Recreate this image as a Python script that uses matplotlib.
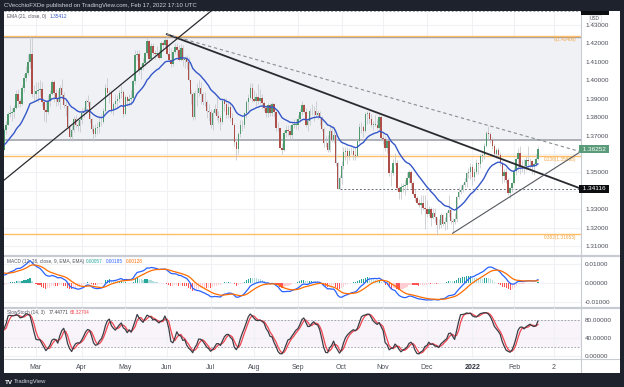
import numpy as np
import pandas as pd
import matplotlib
matplotlib.use('Agg')
import matplotlib.pyplot as plt
import matplotlib.transforms as mtransforms
from matplotlib.patches import Rectangle

plt.rcParams['font.family'] = ['Liberation Sans', 'DejaVu Sans']

# ---------------- DATA: GBP/USD daily (close, high, low) in pips above 1.0000 ----------------
# Nov/Dec 2020 are only history for the indicators (off the left edge)
m2020_11 = [(2935,2960,2855),(3050,3060,2935),(3000,3140,2915),(3145,3155,2990),(3150,3185,3110),
            (3180,3210,3120),(3275,3310,3165),(3260,3315,3230),(3120,3265,3105),(3190,3200,3110),
            (3190,3230,3145),(3245,3255,3170),(3250,3285,3230),(3255,3280,3190),(3285,3310,3240),
            (3325,3345,3260),(3350,3395,3305),(3380,3405,3320),(3315,3390,3300),(3325,3350,3290),
            (3330,3375,3300)]
m2020_12 = [(3385,3445,3330),(3365,3440,3305),(3460,3540,3365),(3440,3540,3390),(3385,3445,3225),
            (3360,3415,3345),(3360,3470,3345),(3285,3375,3225),(3230,3320,3135),(3325,3355,3230),
            (3455,3465,3305),(3520,3535,3425),(3575,3625,3500),(3510,3585,3480),(3450,3465,3185),
            (3405,3490,3385),(3500,3525,3410),(3555,3620,3490),(3450,3580,3440),(3480,3525,3420),
            (3670,3675,3480),(3670,3705,3635)]
m2021_01 = [(3570,3705,3565),(3610,3640,3540),(3610,3705,3595),(3545,3655,3535),(3565,3595,3505),
            (3510,3575,3450),(3645,3660,3500),(3660,3710,3620),(3680,3710,3610),(3590,3710,3575),
            (3595,3620,3520),(3640,3655,3560),(3665,3685,3610),(3735,3745,3650),(3685,3745,3670),
            (3675,3720,3610),(3735,3745,3665),(3700,3760,3665),(3730,3755,3680),(3705,3760,3690)]
m2021_02 = [(3675,3715,3640),(3655,3705,3625),(3660,3675,3625),(3620,3690,3565),(3730,3740,3620),
            (3760,3780,3710),(3815,3830,3755),(3825,3865,3800),(3830,3850,3780),(3850,3865,3795),
            (3925,3950,3845),(3890,3955,3855),(3870,3905,3855),(3960,3975,3865),(4010,4035,3935),
            (4040,4080,3995),(4100,4145,4030),(4145,4240,4065),(3925,4230,3910),(3925,3975,3890)]
m2021_03 = [(3940,3990,3890),(3950,3990,3880),(3955,4000,3915),(3880,3990,3860),(3840,3890,3780),
            (3830,3890,3775),(3890,3920,3815),(3925,3945,3860),(3990,4000,3920),(3930,4000,3880),
            (3905,3955,3860),(3880,3945,3865),(3960,3975,3845),(3920,4005,3900),(3865,3935,3850),
            (3860,3895,3805),(3745,3870,3735),(3690,3760,3670),(3730,3760,3670),(3790,3805,3720),
            (3760,3810,3740),(3750,3785,3725),(3785,3805,3720)]
m2021_04 = [(3825,3850,3765),(3835,3855,3800),(3885,3900,3820),(3880,3920,3860),(3790,3890,3770),
            (3735,3795,3720),(3710,3760,3670),(3740,3765,3690),(3745,3775,3710),(3775,3800,3715),
            (3775,3815,3750),(3835,3850,3770),(3960,3980,3830),(3930,4010,3915),(3930,3950,3875),
            (3840,3945,3825),(3870,3880,3810),(3885,3925,3845),(3900,3920,3855),(3930,3945,3880),
            (3935,3975,3905),(3815,3945,3800)]
m2021_05 = [(3910,3920,3810),(3890,3915,3860),(3900,3925,3860),(3905,3950,3865),(3995,4005,3895),
            (4135,4165,3980),(4140,4165,4110),(4055,4165,4035),(4070,4090,4005),(4095,4120,4055),
            (4150,4155,4075),(4215,4230,4135),(4115,4220,4100),(4185,4200,4110),(4150,4200,4135),
            (4145,4165,4115),(4145,4185,4125),(4120,4165,4115),(4205,4215,4120),(4190,4215,4160),
            (4220,4230,4180)]
m2021_06 = [(4145,4250,4135),(4110,4195,4100),(4090,4175,4070),(4155,4165,4080),(4180,4200,4145),
            (4165,4200,4130),(4110,4190,4105),(4175,4195,4105),(4110,4190,4075),(4115,4130,4065),
            (4100,4135,4060),(4000,4125,3995),(3925,3945,3870),(3800,3935,3785),(3930,3945,3790),
            (3930,3985,3860),(3960,4000,3915),(3925,3990,3870),(3880,3935,3865),(3880,3935,3860),
            (3835,3895,3795),(3830,3870,3780)]
m2021_07 = [(3760,3845,3740),(3825,3840,3730),(3845,3870,3815),(3805,3910,3785),(3795,3835,3770),
            (3775,3810,3730),(3890,3905,3765),(3870,3905,3835),(3810,3905,3795),(3855,3880,3795),
            (3795,3880,3780),(3760,3825,3755),(3665,3770,3645),(3625,3685,3570),(3710,3720,3600),
            (3760,3785,3690),(3755,3785,3725),(3820,3830,3740),(3880,3895,3795),(3905,3925,3840),
            (3960,3985,3900),(3900,3985,3880)]
m2021_08 = [(3890,3945,3880),(3910,3930,3860),(3890,3980,3870),(3905,3955,3870),(3875,3925,3845),
            (3850,3885,3835),(3820,3865,3800),(3865,3875,3800),(3820,3875,3805),(3870,3880,3805),
            (3830,3875,3800),(3740,3835,3725),(3740,3775,3725),(3635,3740,3630),(3620,3660,3600),
            (3715,3730,3615),(3730,3755,3690),(3725,3755,3700),(3705,3760,3680),(3760,3775,3675),
            (3760,3790,3740),(3760,3790,3735)]
m2021_09 = [(3790,3810,3730),(3830,3845,3775),(3865,3890,3810),(3830,3870,3820),(3760,3850,3745),
            (3780,3795,3725),(3835,3850,3760),(3835,3870,3810),(3835,3860,3780),(3810,3890,3800),
            (3825,3840,3790),(3795,3835,3760),(3735,3805,3725),(3660,3745,3640),(3660,3700,3640),
            (3620,3705,3610),(3725,3750,3610),(3675,3750,3665),(3705,3745,3660),(3550,3705,3535),
            (3410,3555,3410),(3470,3485,3410)]
m2021_10 = [(3535,3560,3435),(3610,3640,3520),(3615,3640,3565),(3590,3640,3545),(3615,3635,3565),
            (3615,3640,3600),(3595,3640,3570),(3590,3630,3570),(3670,3675,3585),(3745,3770,3660),
            (3745,3775,3715),(3725,3760,3690),(3815,3830,3720),(3825,3835,3765),(3790,3835,3770),
            (3760,3815,3745),(3760,3780,3730),(3760,3810,3750),(3740,3790,3735),(3800,3810,3725),
            (3685,3805,3670)]
m2021_11 = [(3680,3715,3655),(3630,3700,3615),(3670,3680,3605),(3495,3690,3480),(3495,3515,3425),
            (3550,3575,3485),(3550,3605,3540),(3415,3565,3405),(3395,3425,3355),(3420,3440,3355),
            (3425,3445,3395),(3430,3460,3380),(3470,3500,3410),(3500,3515,3445),(3440,3515,3415),
            (3385,3455,3380),(3360,3410,3345),(3335,3370,3330),(3325,3355,3310),(3335,3380,3275),
            (3305,3375,3295),(3300,3375,3195)]
m2021_12 = [(3275,3350,3260),(3300,3320,3265),(3255,3315,3210),(3280,3305,3245),(3260,3305,3230),
            (3215,3260,3160),(3215,3245,3195),(3270,3280,3200),(3220,3275,3210),(3230,3260,3190),
            (3280,3290,3195),(3295,3375,3260),(3235,3305,3220),(3230,3255,3170),(3250,3280,3220),
            (3365,3370,3230),(3395,3420,3355),(3405,3430,3385),(3430,3440,3395),(3450,3470,3420),
            (3495,3500,3420),(3500,3525,3470),(3530,3550,3465)]
m2022_01 = [(3475,3545,3430),(3500,3525,3455),(3550,3575,3490),(3545,3555,3490),(3590,3600,3525),
            (3595,3605,3555),(3645,3660,3575),(3715,3725,3640),(3710,3750,3680),(3675,3720,3660),
            (3645,3690,3625),(3600,3655,3595),(3620,3635,3580),(3595,3640,3580),(3550,3610,3535),
            (3480,3560,3445),(3505,3520,3450),(3460,3525,3445),(3390,3470,3375),(3415,3420,3360),
            (3445,3450,3395)]
m2022_02 = [(3510,3530,3435),(3575,3580,3485),(3605,3630,3500),(3530,3645,3490),(3535,3570,3505),
            (3535,3575,3490),(3565,3590,3515),(3560,3645,3525),(3560,3580,3520),(3535,3565,3490),
            (3545,3555,3485),(3575,3600,3535),(3625,3645,3565)]

history = [m2020_11, m2020_12]
months = [m2021_01, m2021_02, m2021_03, m2021_04, m2021_05, m2021_06, m2021_07, m2021_08,
          m2021_09, m2021_10, m2021_11, m2021_12, m2022_01, m2022_02]
month_labels = ['Mar', 'Apr', 'May', 'Jun', 'Jul', 'Aug', 'Sep', 'Oct', 'Nov', 'Dec', '2022', 'Feb', '2']
days_to_next_month = 7  # trading days from last candle to the "2" label

# drawings (bar index counted from 4 Jan 2021, price)
trend_down = [(106, 1.4250), (314.7, 1.3412)]
trend_down_dashed = [(106, 1.4250), (314.7, 1.3612)]
trend_up_short = [(250, 1.3170), (314.7, 1.3614)]
trend_up_long = [(72.3, 1.38838), (122.7, 1.43271)]
fib_levels = [(1.42406, '0(1.42406)'), (1.35868, '0.236(1.35868)'), (1.31653, '0.382(1.31653)')]
box_range = (1.36760, 1.42349)
support_level = 1.34116
support_start = 193
top_level = 1.43745
last_price = 1.36252

# ---------------- derived series ----------------
n_hist = sum(len(m) for m in history)
rows = [r for m in history + months for r in m]
close = np.array([r[0] for r in rows]) / 10000 + 1
high = np.array([r[1] for r in rows]) / 10000 + 1
low = np.array([r[2] for r in rows]) / 10000 + 1
opn = np.concatenate([[close[0]], close[:-1]])
n = len(close)
idx = np.arange(n) - n_hist
n_vis = n - n_hist
starts = np.cumsum([len(m) for m in months])[:-1]
tick_pos = list(starts[1:]) + [n_vis + days_to_next_month]

cs = pd.Series(close)
ema21 = cs.ewm(span=21, adjust=False).mean()
macd = cs.ewm(span=12, adjust=False).mean() - cs.ewm(span=26, adjust=False).mean()
signal = macd.ewm(span=9, adjust=False).mean()
hist = (macd - signal).values
hh = pd.Series(high).rolling(14).max()
ll = pd.Series(low).rolling(14).min()
rawk = 100 * (cs - ll) / (hh - ll)
stk = rawk.rolling(3).mean()
std = stk.rolling(3).mean()

# ---------------- figure ----------------
W, H = 624, 387
fig = plt.figure(figsize=(W / 100, H / 100), dpi=100, facecolor='#1e222d')


def rect(x0, y0, x1, y1):
    return [x0 / W, 1 - y1 / H, (x1 - x0) / W, (y1 - y0) / H]


bg = fig.add_axes(rect(4, 10.5, 620, 373))
bg.set_xlim(4, 620)
bg.set_ylim(373, 10.5)
bg.set_facecolor('white')
bg.set_xticks([]); bg.set_yticks([])
for s in bg.spines.values():
    s.set_visible(False)
sep_c = '#c8cbd2'
bg.hlines([255.5, 307.5], 4, 620, color=sep_c, lw=1.6)
bg.hlines([358.7], 4, 620, color=sep_c, lw=0.8)
bg.vlines([581], 10.5, 373, color=sep_c, lw=0.8)

XL = (23.9, 314.7)
grid_c = '#eff1f5'
lab_c = '#4a4d57'


def style(a):
    a.set_xlim(*XL)
    a.patch.set_alpha(0)
    for s in a.spines.values():
        s.set_visible(False)
    a.yaxis.tick_right()
    a.tick_params(axis='y', length=0, pad=2.9, labelsize=4.6, labelcolor=lab_c)
    a.tick_params(axis='x', length=0)
    a.set_xticks(tick_pos)
    a.grid(True, color=grid_c, lw=0.8, zorder=0)
    a.set_axisbelow(True)


# main panel
ax = fig.add_axes(rect(4, 11, 581, 255))
style(ax)
ax.set_ylim(1.30520, 1.43760)
levels = np.round(np.arange(1.31, 1.4301, 0.01), 2)
ax.set_yticks(levels)
ax.set_yticklabels(['' if abs(l - 1.34) < 1e-6 or abs(l - 1.36) < 1e-6 else f'{l:.5f}' for l in levels])
ax.set_xticklabels([])

ax.axhspan(box_range[0], box_range[1], color='#eff1f5', zorder=0.5, lw=0)
ax.axhline(box_range[0], color='#9a9da5', lw=1.1, zorder=1)
ax.axhline(box_range[1], color='#9a9da5', lw=1.0, zorder=1)
ax.axhline(top_level, color='#9a9da5', lw=0.7, ls=(0, (2, 2)), zorder=1)
for lvl, txt in fib_levels:
    ax.axhline(lvl, color='#ffbd69', lw=1.0, zorder=1)
    ax.annotate(txt, xy=(1, lvl), xycoords=mtransforms.blended_transform_factory(ax.transAxes, ax.transData),
                xytext=(-3, -2.5), textcoords='offset points', ha='right', va='center',
                fontsize=3.4, color='#f5a742')
ax.hlines(support_level, support_start, XL[1], color='#6b6e76', lw=0.7, ls=(0, (2, 2)), zorder=1)

up_c, dn_c = '#4f9a6d', '#ad4f48'
colors = np.where(close >= opn, up_c, dn_c)
ax.vlines(idx, low, high, color='#c3c6cc', lw=0.55, zorder=2)
body_h = np.maximum(np.abs(close - opn), 0.00006)
ax.bar(idx, body_h, bottom=np.minimum(close, opn), width=0.72, color=colors, lw=0, zorder=2.5)

ax.plot(idx, ema21, color='#3557c8', lw=1.0, zorder=4)

ax.plot([p[0] for p in trend_down], [p[1] for p in trend_down], color='#2a2b30', lw=1.3, zorder=5)
ax.plot([p[0] for p in trend_down_dashed], [p[1] for p in trend_down_dashed], color='#8a8d94', lw=0.8,
        ls=(0, (3, 2.5)), zorder=5)
ax.plot([p[0] for p in trend_up_short], [p[1] for p in trend_up_short], color='#55585f', lw=0.8, zorder=5)
ax.axline(trend_up_long[0], trend_up_long[1], color='#2a2b30', lw=0.9, zorder=5)

blend = mtransforms.blended_transform_factory(ax.transAxes, ax.transData)
ax.text(1.0, last_price, ' 1.36252 ', transform=blend, ha='left', va='center', fontsize=4.6,
        color='white', clip_on=False, zorder=10,
        bbox=dict(boxstyle='square,pad=0.25', fc='#5a9b79', ec='none'))
ax.text(1.0, support_level, ' 1.34116 ', transform=blend, ha='left', va='center', fontsize=4.6,
        color='white', clip_on=False, zorder=10,
        bbox=dict(boxstyle='square,pad=0.25', fc='#0c0e12', ec='none'))

# clipped top label + USD
bg.add_patch(Rectangle((581, 10.5), 28, 4.0, fc='#0c0e12', ec='none', zorder=5))
bg.text(595, 18.5, 'USD', fontsize=3.4, color='#50535e', ha='center', va='center',
        bbox=dict(boxstyle='square,pad=0.3', fc='white', ec='#d6d8dd', lw=0.4))

# MACD panel
am = fig.add_axes(rect(4, 256.5, 581, 307))
style(am)
am.set_ylim(-0.01237, 0.01395)
am.set_yticks([-0.01, 0.0, 0.01])
am.set_yticklabels(['-0.01000', '0.00000', '0.01000'])
am.set_xticklabels([])
prev = np.concatenate([[0], hist[:-1]])
hcol = np.where(hist >= 0, np.where(hist > prev, '#26a69a', '#b2dfdb'),
                np.where(hist < prev, '#ff5252', '#ffcdd2'))
am.bar(idx, hist, width=0.6, color=hcol, lw=0, zorder=2)
am.plot(idx, macd, color='#2962ff', lw=0.9, zorder=3)
am.plot(idx, signal, color='#ff6d00', lw=0.9, zorder=3)

# Stoch panel
ast = fig.add_axes(rect(4, 308.3, 581, 358.3))
style(ast)
ast.set_ylim(-6.0, 106.5)
ast.set_yticks([0, 40, 80])
ast.set_yticklabels(['0.00000', '40.00000', '80.00000'])
ast.axhspan(20, 80, color='#9c27b0', alpha=0.05, lw=0, zorder=0.5)
ast.axhline(80, color='#9598a1', lw=0.6, ls=(0, (2, 2)), zorder=1)
ast.axhline(20, color='#9598a1', lw=0.6, ls=(0, (2, 2)), zorder=1)
ast.plot(idx, std, color='#f0444f', lw=0.9, zorder=3)
ast.plot(idx, stk, color='#3b3d45', lw=0.9, zorder=4)
ast.set_xticklabels(month_labels)
ast.tick_params(axis='x', pad=4.0, labelsize=5, labelcolor=lab_c)
for t in ast.get_xticklabels():
    if t.get_text() == '2022':
        t.set_fontweight('bold')
        t.set_color('#2a2e39')


# legends / header texts
def ftext(x, y, s, **kw):
    fig.text(x / W, 1 - y / H, s, va='center', ha='left', **kw)


ftext(4, 5.3, 'CVecchioFXDe published on TradingView.com, Feb 17, 2022 17:10 UTC', fontsize=4.3,
      color='#d1d4dc')
ftext(7, 16.8, 'EMA (21, close, 0)', fontsize=3.4, color='#50535e')
ftext(50, 16.8, '1.35412', fontsize=3.4, color='#3557c8')
ftext(7, 261.2, 'MACD (12, 26, close, 9, EMA, EMA)', fontsize=3.4, color='#50535e')
ftext(86, 261.2, '0.00057', fontsize=3.4, color='#26a69a')
ftext(106, 261.2, '0.00185', fontsize=3.4, color='#2962ff')
ftext(126, 261.2, '0.00128', fontsize=3.4, color='#ff6d00')
ftext(7, 312.7, 'SlowStoch (14, 3)', fontsize=3.4, color='#50535e')
ftext(49, 312.7, '77.44771', fontsize=3.4, color='#3b3d45')
ftext(70, 312.7, '68.32704', fontsize=3.4, color='#f0444f')
ftext(5, 382, 'TV', fontsize=4.5, color='white', fontweight='bold')
ftext(14, 382, 'TradingView', fontsize=4.2, color='#d1d4dc')

fig.savefig('out.png', dpi=100, facecolor=fig.get_facecolor())
